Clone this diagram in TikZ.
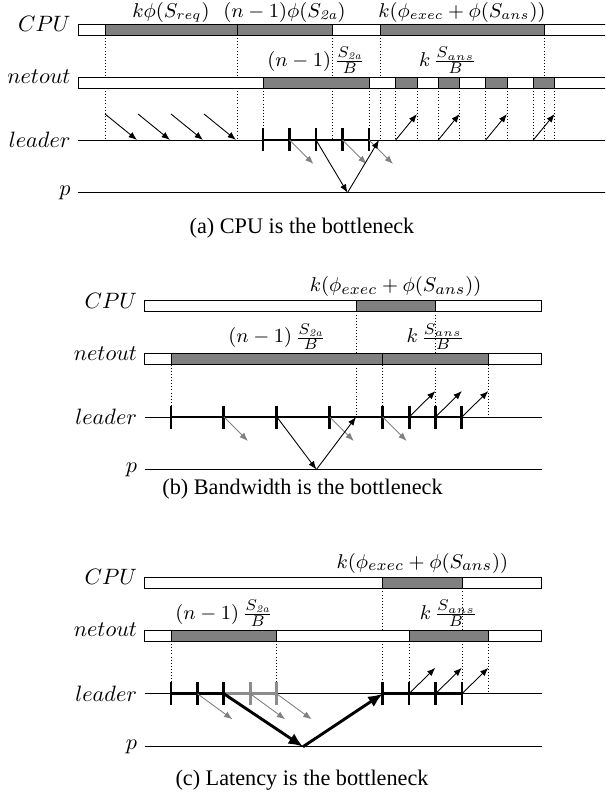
\documentclass[tikz,border=0pt]{standalone}
\usepackage{fontspec}
\newfontfamily\capfont{Liberation Serif}
\usetikzlibrary{arrows.meta}
\begin{document}
\begin{tikzpicture}[x=0.45pt,y=-0.45pt,
  bar/.style={draw=black, fill=white, line width=0.4pt},
  busy/.style={draw=black, fill=black!50, line width=0.4pt},
  tline/.style={line width=0.4pt},
  guide/.style={densely dotted, line width=0.4pt},
  msg/.style={line width=0.4pt, -{Latex[length=3.8pt,width=2.9pt]}},
  gmsg/.style={msg, black!50},
  bigmsg/.style={line width=1.3pt, -{Latex[length=6.5pt,width=5.5pt]}},
  work/.style={line width=1.3pt},
  gwork/.style={line width=1.3pt, black!45},
  lab/.style={anchor=east, inner sep=0pt},
  toplab/.style={anchor=south, inner sep=1.4pt, font=\fontsize{9.4}{11}\selectfont},
  firstlab/.style={anchor=south, inner sep=0pt, font=\fontsize{8.8}{10}\selectfont},
  captext/.style={font=\capfont}
]
\useasboundingbox (0,0) rectangle (605,799);
\clip (0,0) rectangle (605,799);

% ===================== (a) =====================
\foreach \x in {105,237,332,380,544} \draw[guide] (\x,35) -- (\x,140);
\foreach \x in {263,369,395.7,417,438.3,459.3,485.7,507,533.3,554.7} \draw[guide] (\x,88) -- (\x,140);
\draw[bar] (78,24) rectangle (615,35);
\draw[busy] (105,24) rectangle (237,35);
\draw[busy] (237,24) rectangle (332,35);
\draw[busy] (380,24) rectangle (544,35);
\draw[bar] (78,77) rectangle (615,88);
\draw[busy] (263,77) rectangle (369,88);
\foreach \x in {395.7,438.3,485.7,533.3} \draw[busy] (\x,77) rectangle ++(21.3,11);
\draw[tline] (78,140) -- (615,140);
\draw[tline] (78,192.7) -- (615,192.7);
\node[lab] (aCPU) at (71,24) {$CPU$};
\node[lab] (aNet) at (71,77) {$netout$};
\node[lab] (aLead) at (71,140) {$leader$};
\node[lab] (aP) at (71,192.7) {$p$};
\node[firstlab] (aL1) at (171,22.5) {$k\phi(S_{req})$};
\node[firstlab] (aL2) at (284.5,22.5) {$(n-1)\phi(S_{\mathit{2a}})$};
\node[firstlab] (aL3) at (462,22.5) {$k(\phi_{exec}+\phi(S_{ans}))$};
\node[toplab] (aL4) at (316,77) {$(n-1)\,\frac{S_{\mathit{2a}}}{B}$};
\node[toplab] (aL5) at (448,77) {$k\,\frac{S_{ans}}{B}$};
\foreach \i in {0,1,2,3} {
  \coordinate (ars\i) at (105+33*\i,114);
  \coordinate (are\i) at (137+33*\i,140);
  \draw[msg] (ars\i) -- (are\i);
}
\draw[work] (263,140) -- (369,140);
\foreach \x in {263,289.5,316,342.5,369} \draw[work] (\x,128.5) -- (\x,151.5);
\foreach \x [count=\n] in {289.5,342.5,369} {
  \coordinate (ags\n) at (\x,140);
  \coordinate (age\n) at (\x+24,164);
  \draw[gmsg] (ags\n) -- (age\n);
}
\coordinate (aV1) at (316,140);
\coordinate (aV2) at (347.5,192.7);
\coordinate (aV3) at (379,140);
\draw[msg] (aV1) -- (aV2);
\draw[msg] (aV2) -- (aV3);
\foreach \x [count=\n] in {395.7,438.3,485.7,533.3} {
  \coordinate (aus\n) at (\x,140);
  \coordinate (aue\n) at (\x+21.3,114);
  \draw[msg] (aus\n) -- (aue\n);
}
\node[captext] (capa) at (302,228.5) {(a) CPU is the bottleneck};

% ===================== (b) =====================
\foreach \x in {356,435.5} \draw[guide] (\x,311.5) -- (\x,417);
\foreach \x in {171,382.7,488.3} \draw[guide] (\x,364.5) -- (\x,417);
\draw[bar] (144.5,300.5) rectangle (541.5,311.5);
\draw[busy] (356,300.5) rectangle (435.5,311.5);
\draw[bar] (144.5,353.5) rectangle (541.5,364.5);
\draw[busy] (171,353.5) rectangle (382.7,364.5);
\draw[busy] (382.7,353.5) rectangle (488.3,364.5);
\draw[tline] (144.5,417) -- (541.5,417);
\draw[tline] (144.5,469.5) -- (541.5,469.5);
\node[lab] (bCPU) at (137.5,300.5) {$CPU$};
\node[lab] (bNet) at (137.5,353.5) {$netout$};
\node[lab] (bLead) at (137.5,417) {$leader$};
\node[lab] (bP) at (137.5,469.5) {$p$};
\node[toplab] (bL1) at (395.7,300.5) {$k(\phi_{exec}+\phi(S_{ans}))$};
\node[toplab] (bL2) at (277,353.5) {$(n-1)\,\frac{S_{\mathit{2a}}}{B}$};
\node[toplab] (bL3) at (435.5,353.5) {$k\,\frac{S_{ans}}{B}$};
\draw[work] (171,417) -- (461.9,417);
\foreach \x in {171,223.9,276.9,329.8,382.7,409.1,435.5,461.9} \draw[work] (\x,405.5) -- (\x,428.5);
\foreach \x [count=\n] in {223.9,329.8,382.7} {
  \coordinate (bgs\n) at (\x,417);
  \coordinate (bge\n) at (\x+24,441);
  \draw[gmsg] (bgs\n) -- (bge\n);
}
\coordinate (bV1) at (276.9,417);
\coordinate (bV2) at (316.4,469.5);
\coordinate (bV3) at (356,417);
\draw[msg] (bV1) -- (bV2);
\draw[msg] (bV2) -- (bV3);
\foreach \x [count=\n] in {409.1,435.5,461.9} {
  \coordinate (bus\n) at (\x,417);
  \coordinate (bue\n) at (\x+26.4,391);
  \draw[msg] (bus\n) -- (bue\n);
}
\node[captext] (capb) at (302.5,489) {(b) Bandwidth is the bottleneck};

% ===================== (c) =====================
\foreach \x in {382.7,462.2} \draw[guide] (\x,588.3) -- (\x,693.7);
\foreach \x in {171,276.6,409,488.4} \draw[guide] (\x,641) -- (\x,693.7);
\draw[bar] (144.5,577.3) rectangle (541.5,588.3);
\draw[busy] (382.7,577.3) rectangle (462.2,588.3);
\draw[bar] (144.5,630) rectangle (541.5,641);
\draw[busy] (171,630) rectangle (276.6,641);
\draw[busy] (409,630) rectangle (488.4,641);
\draw[tline] (144.5,693.7) -- (541.5,693.7);
\draw[tline] (144.5,746.7) -- (541.5,746.7);
\node[lab] (cCPU) at (137.5,577.3) {$CPU$};
\node[lab] (cNet) at (137.5,630) {$netout$};
\node[lab] (cLead) at (137.5,693.7) {$leader$};
\node[lab] (cP) at (137.5,746.7) {$p$};
\node[toplab] (cL1) at (422.4,577.3) {$k(\phi_{exec}+\phi(S_{ans}))$};
\node[toplab] (cL2) at (224,630) {$(n-1)\,\frac{S_{\mathit{2a}}}{B}$};
\node[toplab] (cL3) at (448.7,630) {$k\,\frac{S_{ans}}{B}$};
\draw[gwork] (223.8,693.7) -- (276.6,693.7);
\foreach \x in {250.2,276.6} \draw[gwork] (\x,682.2) -- (\x,705.2);
\draw[work] (171,693.7) -- (223.8,693.7);
\draw[work] (382.7,693.7) -- (462,693.7);
\foreach \x in {171,197.4,223.8,382.7,409,435.5,462} \draw[work] (\x,682.2) -- (\x,705.2);
\foreach \x [count=\n] in {197.4,250.2,276.6} {
  \coordinate (cgs\n) at (\x,693.7);
  \coordinate (cge\n) at (\x+35,719.3);
  \draw[gmsg] (cgs\n) -- (cge\n);
}
\coordinate (cV1) at (223.8,693.7);
\coordinate (cV2) at (303,746.7);
\coordinate (cV3) at (382.7,693.7);
\draw[bigmsg] (cV1) -- (cV2);
\draw[bigmsg] (cV2) -- (cV3);
\foreach \x [count=\n] in {409,435.5,462} {
  \coordinate (cus\n) at (\x,693.7);
  \coordinate (cue\n) at (\x+26.4,667.7);
  \draw[msg] (cus\n) -- (cue\n);
}
\node[captext] (capc) at (302,780) {(c) Latency is the bottleneck};
\end{tikzpicture}
\end{document}
